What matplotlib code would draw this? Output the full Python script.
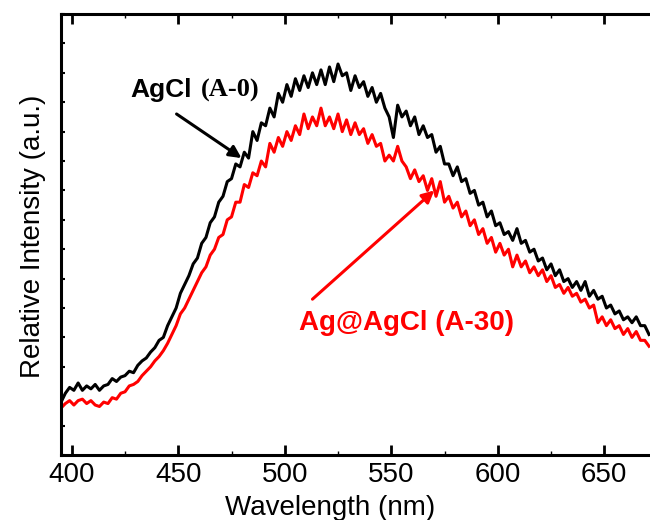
import numpy as np
import matplotlib
matplotlib.use('Agg')
import matplotlib.pyplot as plt
from matplotlib.ticker import MultipleLocator, NullFormatter

# read-off intensities (a.u.), sampled every 2 nm starting at 395 nm
start_nm = 395
step_nm = 2

agcl = [1.8, 2.1, 2.3, 2.2, 2.45, 2.2, 2.35, 2.25, 2.4, 2.2,
        2.35, 2.4, 2.6, 2.5, 2.65, 2.7, 2.85, 2.8, 3.05, 3.2,
        3.3, 3.5, 3.65, 3.9, 4.0, 4.4, 4.7, 5.0, 5.5, 5.8,
        6.1, 6.5, 6.7, 7.2, 7.4, 7.9, 8.1, 8.6, 8.8, 9.3,
        9.4, 9.9, 9.8, 10.3, 10.1, 11.0, 10.7, 11.3, 11.2, 11.8,
        11.5, 12.3, 12.0, 12.6, 12.2, 12.8, 12.4, 12.9, 12.5, 13.0,
        12.6, 13.1, 12.6, 13.2, 12.7, 13.3, 12.9, 13.0, 12.4, 12.9,
        12.5, 12.7, 12.2, 12.5, 12.0, 12.3, 11.8, 11.5, 10.8, 11.9,
        11.5, 11.7, 11.2, 11.5, 10.9, 11.2, 10.8, 10.9, 10.3, 10.5,
        9.9, 9.9, 9.5, 9.8, 9.3, 9.4, 8.9, 9.0, 8.5, 8.6,
        8.1, 8.3, 7.8, 7.9, 7.5, 7.6, 7.3, 7.7, 7.2, 7.3,
        6.9, 7.0, 6.6, 6.7, 6.3, 6.5, 6.1, 6.3, 5.9, 6.0,
        5.7, 5.9, 5.6, 5.9, 5.4, 5.6, 5.3, 5.4, 5.0, 5.1,
        4.8, 4.9, 4.6, 4.7, 4.5, 4.7, 4.4, 4.4, 4.1]

ag_agcl = [1.6, 1.75, 1.85, 1.7, 1.85, 1.9, 1.75, 1.85, 1.7, 1.65,
           1.8, 1.75, 1.95, 1.9, 2.1, 2.15, 2.35, 2.4, 2.5, 2.7,
           2.85, 3.0, 3.2, 3.35, 3.55, 3.8, 4.1, 4.4, 4.8, 5.0,
           5.3, 5.6, 5.9, 6.2, 6.4, 6.8, 7.0, 7.4, 7.5, 8.0,
           8.1, 8.6, 8.6, 9.2, 9.1, 9.6, 9.5, 10.0, 9.8, 10.6,
           10.3, 10.8, 10.5, 11.0, 10.7, 11.2, 10.9, 11.6, 11.1, 11.5,
           11.2, 11.8, 11.2, 11.5, 11.1, 11.6, 11.0, 11.4, 10.9, 11.3,
           10.9, 11.1, 10.6, 10.9, 10.5, 10.6, 10.0, 10.2, 10.0, 10.5,
           10.0, 9.8, 9.4, 9.7, 9.3, 9.5, 9.0, 9.4, 8.8, 9.3,
           8.6, 8.8, 8.4, 8.6, 8.1, 8.3, 7.8, 8.0, 7.5, 7.7,
           7.2, 7.4, 6.9, 7.2, 6.8, 7.0, 6.4, 6.8, 6.4, 6.6,
           6.2, 6.4, 6.1, 6.3, 5.9, 6.1, 5.7, 5.8, 5.5, 5.7,
           5.4, 5.5, 5.2, 5.3, 5.0, 5.1, 4.5, 4.7, 4.4, 4.6,
           4.3, 4.4, 4.1, 4.3, 4.0, 4.2, 3.9, 3.9, 3.7]

wl_agcl = start_nm + step_nm * np.arange(len(agcl))
wl_ag_agcl = start_nm + step_nm * np.arange(len(ag_agcl))

plt.rcParams['font.family'] = ['Liberation Sans', 'DejaVu Sans']

fig = plt.figure(figsize=(6.5, 5.2), dpi=100)
# axes run past the right edge, as in the cropped original
ax = fig.add_axes([0.094, 0.125, 0.934, 0.848])

ax.plot(wl_agcl, agcl, color='black', lw=2.2)
ax.plot(wl_ag_agcl, ag_agcl, color='red', lw=2.2)

ax.set_xlim(395, 680)
ax.set_ylim(0, 15)

for s in ax.spines.values():
    s.set_linewidth(2.2)

ax.xaxis.set_major_locator(MultipleLocator(50))
ax.xaxis.set_minor_locator(MultipleLocator(25))
ax.yaxis.set_major_locator(MultipleLocator(1))
ax.yaxis.set_major_formatter(NullFormatter())
ax.tick_params(axis='x', which='major', direction='in', length=7, width=2,
               top=True, labelsize=20, pad=5)
ax.tick_params(axis='x', which='minor', direction='in', length=3, width=1, top=True)
ax.tick_params(axis='y', which='major', direction='in', length=3, width=1.5, right=True)

ax.set_xlabel('Wavelength (nm)', fontsize=20)
ax.set_ylabel('Relative Intensity (a.u.)', fontsize=20)
ax.xaxis.set_label_coords(0.443, -0.09)
ax.yaxis.set_label_coords(-0.025, 0.495)

# black label and arrow
ax.text(427.6, 12.4, 'AgCl', fontsize=19, fontweight='bold', va='center', ha='left')
ax.text(460.5, 12.4, '(A-0)', fontsize=19, fontweight='bold', va='center', ha='left',
        family='Liberation Serif')
ax.annotate('', xy=(479.7, 10.1), xytext=(449.2, 11.6),
            arrowprops=dict(arrowstyle='-|>', color='black', lw=2.2, mutation_scale=18,
                            shrinkA=0, shrinkB=0))

# red label and arrow
ax.text(506.9, 4.5, 'Ag@AgCl (A-30)', fontsize=20, fontweight='bold', color='red',
        va='center', ha='left')
ax.annotate('', xy=(570.2, 9.0), xytext=(513, 5.3),
            arrowprops=dict(arrowstyle='-|>', color='red', lw=2.2, mutation_scale=18,
                            shrinkA=0, shrinkB=0))

fig.savefig('out.png', dpi=100)
